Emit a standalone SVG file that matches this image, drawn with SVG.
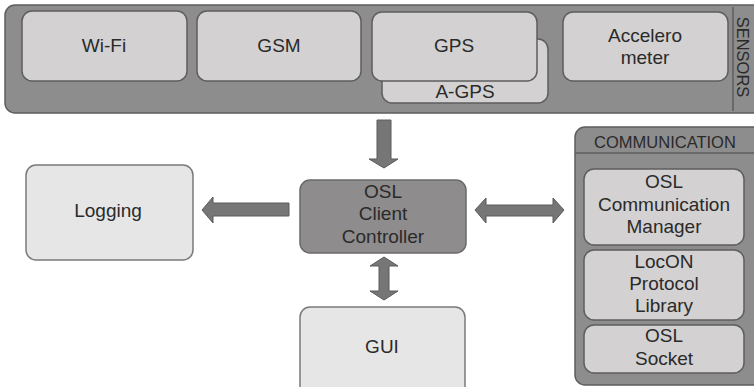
<svg xmlns="http://www.w3.org/2000/svg" width="754" height="387" viewBox="0 0 754 387">
<style>
text{font-family:"Liberation Sans",Arial,sans-serif;font-size:19px;fill:#2a2a2a;text-anchor:middle}
.cont{fill:#8e8d8d;stroke:#5e5e5e;stroke-width:1.5}
.inner{fill:#d3d1d1;stroke:#5e5e5e;stroke-width:1.5}
.light{fill:#e6e6e6;stroke:#7a7a7a;stroke-width:1.5}
.ctrl{fill:#8e8c8c;stroke:#6a6a6a;stroke-width:1.5}
.arr{fill:#777676;stroke:#5a5a5a;stroke-width:1}
.cap{font-size:16.5px}
</style>
<rect width="754" height="387" fill="#ffffff"/>
<g id="sensors">
<rect class="cont" x="5" y="5" width="760" height="108" rx="10"/>
<line x1="733" y1="7" x2="733" y2="111" stroke="#5e5e5e" stroke-width="1.5"/>
<text class="cap" transform="translate(737 57) rotate(90)" y="0" dominant-baseline="auto">SENSORS</text>
</g>
<g id="wifi"><rect class="inner" x="22" y="11" width="165" height="70" rx="10"/><text x="104" y="52">Wi-Fi</text></g>
<g id="gsm"><rect class="inner" x="197" y="11" width="164" height="70" rx="10"/><text x="279" y="52">GSM</text></g>
<g id="agps"><rect class="inner" x="382" y="39" width="166" height="64" rx="10"/><text x="465" y="98">A-GPS</text></g>
<g id="gps"><rect class="inner" x="372" y="12" width="165" height="69" rx="10"/><text x="454" y="52">GPS</text></g>
<g id="accelerometer"><rect class="inner" x="563" y="12" width="165" height="69" rx="10"/><text x="645" y="42">Accelero</text><text x="645" y="64">meter</text></g>
<g id="logging"><rect class="light" x="26" y="165" width="167" height="95" rx="10"/><text x="108" y="217">Logging</text></g>
<g id="controller"><rect class="ctrl" x="300" y="180" width="166" height="73" rx="10"/><text x="383" y="198">OSL</text><text x="383" y="220">Client</text><text x="383" y="243">Controller</text></g>
<g id="gui"><rect class="light" x="300" y="307" width="165" height="90" rx="10"/><text x="382" y="353">GUI</text></g>
<g id="communication">
<rect class="cont" x="575" y="127" width="190" height="258" rx="10"/>
<line x1="575" y1="153" x2="754" y2="153" stroke="#5e5e5e" stroke-width="1.5"/>
<text class="cap" x="665" y="148">COMMUNICATION</text>
</g>
<g id="commManager"><rect class="inner" x="584" y="169" width="160" height="76" rx="10"/><text x="664" y="188">OSL</text><text x="664" y="211">Communication</text><text x="664" y="233">Manager</text></g>
<g id="locon"><rect class="inner" x="584" y="250" width="160" height="70" rx="10"/><text x="664" y="268">LocON</text><text x="664" y="290">Protocol</text><text x="664" y="312">Library</text></g>
<g id="socket"><rect class="inner" x="584" y="325" width="160" height="48" rx="10"/><text x="664" y="342">OSL</text><text x="664" y="365">Socket</text></g>
<g id="connectors">
<path class="arr" d="M377 120 H391 V159 H398 L384 168 L369 159 H377 Z"/>
<path class="arr" d="M289 203 V216 H213 V223 L202 210 L213 197 V203 Z"/>
<path class="arr" d="M475 210 L486 198 V205 H553 V198 L564 210 L553 223 V216 H486 V223 Z"/>
<path class="arr" d="M384 257 L398 266 H389 V291 H398 L384 300 L370 291 H379 V266 H370 Z"/>
</g>
</svg>
